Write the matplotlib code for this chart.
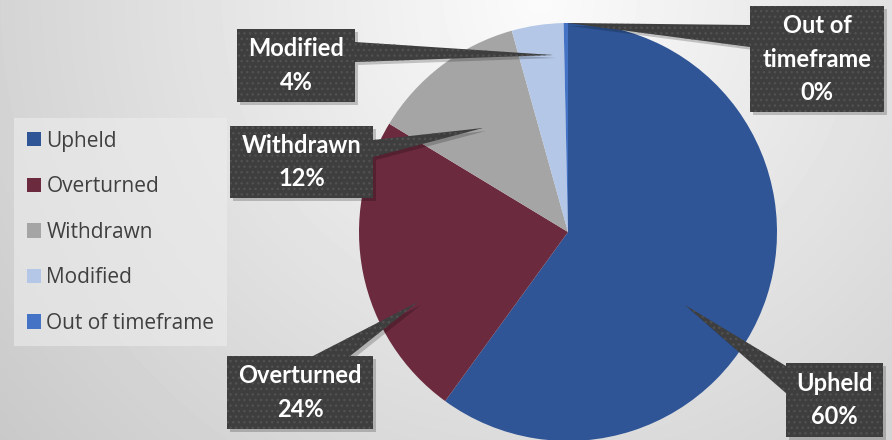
import numpy as np
import matplotlib
matplotlib.use("Agg")
import matplotlib.pyplot as plt
import matplotlib.patches as mpatches

# ---- data ----
categories = ["Upheld", "Overturned", "Withdrawn", "Modified", "Out of timeframe"]
counts = [180, 71, 36, 12, 1]
callout_names = ["Upheld", "Overturned", "Withdrawn", "Modified", "Out of\ntimeframe"]
colors = ["#2F5597", "#6B2A3E", "#A5A5A5", "#B4C7E7", "#4472C4"]

W, H = 892, 440

# callout layout in pixel coords (origin top-left): box (x0, y0, x1, y1), wedge base pts, tip
callouts = {
    "Upheld":           dict(box=(786, 363, 883, 437), base=((786, 366), (786, 393)), tip=(685, 305)),
    "Overturned":       dict(box=(227, 356, 373, 429), base=((313, 356), (350, 356)), tip=(418, 302)),
    "Withdrawn":        dict(box=(230, 126, 373, 198), base=((373, 140), (373, 157)), tip=(483, 128)),
    "Modified":         dict(box=(237, 29, 355, 102), base=((355, 42), (355, 62)), tip=(553, 55)),
    "Out of timeframe": dict(box=(750, 6, 884, 112), base=((750, 25), (750, 47)), tip=(567, 23)),
}


def fy(y):
    # flip pixel row to data y
    return H - y


fig = plt.figure(figsize=(W / 100, H / 100), dpi=100)
ax = fig.add_axes([0, 0, 1, 1])

# soft radial background
xx, yy = np.meshgrid(np.arange(W) + 0.5, np.arange(H) + 0.5)
r = np.hypot(xx - 540, yy - 0)
shade = np.clip(251 - 0.072 * r, 196, 251) / 255.0
ax.imshow(shade, cmap="gray", vmin=0, vmax=1, extent=(0, W, 0, H), origin="upper",
          zorder=0, interpolation="bilinear")

ax.pie(counts, colors=colors, startangle=90, counterclock=False,
       center=(568, fy(232)), radius=209,
       wedgeprops=dict(linewidth=0, zorder=2))

total = sum(counts)
for name, label, val in zip(categories, callout_names, counts):
    c = callouts[name]
    x0, y0, x1, y1 = c["box"]
    (bx0, by0), (bx1, by1) = c["base"]
    tx, ty = c["tip"]
    box_pts = [(x0, fy(y0)), (x1, fy(y0)), (x1, fy(y1)), (x0, fy(y1))]
    wedge_pts = [(bx0, fy(by0)), (tx, fy(ty)), (bx1, fy(by1))]
    # drop shadow
    for pts in (box_pts, wedge_pts):
        ax.add_patch(mpatches.Polygon([(px + 3, py - 3) for px, py in pts], closed=True,
                                      facecolor="black", alpha=0.2, linewidth=0, zorder=3))
    for pts in (box_pts, wedge_pts):
        ax.add_patch(mpatches.Polygon(pts, closed=True, facecolor="#3E3E3E",
                                      edgecolor="#515151", linewidth=0, hatch="...", zorder=4))
    pct = round(100 * val / total)
    ax.text((x0 + x1) / 2, fy((y0 + y1) / 2), f"{label}\n{pct}%", ha="center", va="center",
            color="white", fontsize=17, fontweight="bold", family=["Lato", "DejaVu Sans"],
            linespacing=1.55, zorder=5)

handles = [mpatches.Patch(facecolor=c, edgecolor="none", label=n) for c, n in zip(colors, categories)]
leg = ax.legend(handles=handles, loc="upper left", bbox_to_anchor=(14 / W, 1 - 118 / H),
                bbox_transform=fig.transFigure, borderaxespad=0, fancybox=False,
                prop=dict(family=["Open Sans", "DejaVu Sans"], size=15),
                labelcolor="#404040", handlelength=0.68, handleheight=0.68,
                handletextpad=0.28, labelspacing=1.18, borderpad=0.6,
                facecolor="#EDEDED", edgecolor="none", framealpha=0.6)
leg.set_zorder(6)

ax.set_xlim(0, W)
ax.set_ylim(0, H)
ax.set_aspect("equal")
ax.axis("off")

fig.savefig("out.png", dpi=100)
